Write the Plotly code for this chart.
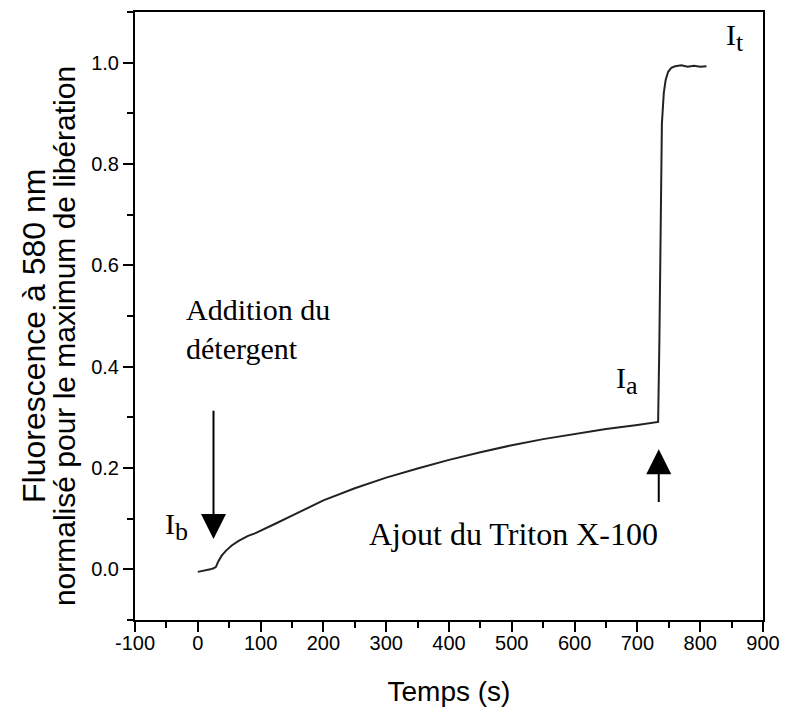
import plotly.graph_objects as go

# Data
time_s = [0, 5, 10, 15, 20, 25, 29, 32, 35, 38, 45, 54, 65, 80, 91, 100, 125, 150, 175,
          200, 250, 300, 350, 400, 450, 500, 550, 600, 650, 700, 720, 733,
          735, 737, 739, 742, 745, 749, 754, 760, 770, 780, 790, 800, 810]
fluo = [-0.005, -0.004, -0.003, -0.002, 0.000, 0.002, 0.005, 0.014, 0.022, 0.027, 0.037,
        0.047, 0.056, 0.066, 0.071, 0.076, 0.091, 0.106, 0.121, 0.136, 0.160, 0.181, 0.199,
        0.216, 0.231, 0.245, 0.257, 0.267, 0.277, 0.285, 0.288, 0.291,
        0.450, 0.700, 0.880, 0.940, 0.966, 0.982, 0.990, 0.993, 0.995, 0.992, 0.994, 0.992, 0.993]

x_ticks = [-100, 0, 100, 200, 300, 400, 500, 600, 700, 800, 900]
x_tick_labels = ["-100", "0", "100", "200", "300", "400", "500", "600", "700", "800", "900"]
y_ticks = [0.0, 0.2, 0.4, 0.6, 0.8, 1.0]
y_tick_labels = ["0.0", "0.2", "0.4", "0.6", "0.8", "1.0"]

serif = "Liberation Serif, Times New Roman, serif"
sans = "Liberation Sans, Arial, sans-serif"

fig = go.Figure()
fig.add_trace(go.Scatter(x=time_s, y=fluo, mode="lines",
                         line=dict(color="#222222", width=2), showlegend=False))

axis_common = dict(showline=True, linecolor="black", linewidth=2, mirror=True,
                   showgrid=False, zeroline=False, ticks="outside", ticklen=10,
                   tickwidth=2, tickcolor="black",
                   tickfont=dict(family=sans, size=20, color="black"))

fig.update_xaxes(range=[-100, 900], tickmode="array", tickvals=x_ticks, ticktext=x_tick_labels,
                 ticklabelstandoff=-6,
                 minor=dict(tickmode="linear", ticks="outside", ticklen=6, tickwidth=2, dtick=50,
                            tick0=-100, tickcolor="black", showgrid=False),
                 title=dict(text="Temps (s)", font=dict(family=sans, size=28, color="black"),
                            standoff=28),
                 **axis_common)
fig.update_yaxes(range=[-0.1, 1.1], tickmode="array", tickvals=y_ticks, ticktext=y_tick_labels,
                 minor=dict(tickmode="linear", ticks="outside", ticklen=6, tickwidth=2, dtick=0.1,
                            tick0=0, tickcolor="black", showgrid=False),
                 **axis_common)

txt = dict(family=serif, size=30, color="black")
sub = "<sub><span style='font-size:26px'>{}</span></sub>"
annots = [
    dict(x=25, y=0.06, ax=25, ay=0.316, axref="x", ayref="y", xref="x", yref="y",
         text="", showarrow=True, arrowhead=2, arrowsize=2.5, arrowwidth=2, arrowcolor="black"),
    dict(x=734, y=0.237, ax=734, ay=0.13, axref="x", ayref="y", xref="x", yref="y",
         text="", showarrow=True, arrowhead=2, arrowsize=2.5, arrowwidth=2, arrowcolor="black"),
    dict(x=-22, y=0.474, xref="x", yref="y", text="Addition du<br>détergent", showarrow=False,
         xanchor="left", yanchor="middle", align="left", font=txt),
    dict(x=-55, y=0.085, xref="x", yref="y", text="I" + sub.format("b"), showarrow=False,
         xanchor="left", font=txt),
    dict(x=663, y=0.372, xref="x", yref="y", text="I" + sub.format("a"), showarrow=False,
         xanchor="left", font=txt),
    dict(x=838, y=1.05, xref="x", yref="y", text="I" + sub.format("t"), showarrow=False,
         xanchor="left", font=txt),
    dict(x=270, y=0.07, xref="x", yref="y", text="Ajout du Triton X-100", showarrow=False,
         xanchor="left", font=dict(family=serif, size=32, color="black")),
    # y-axis title, two lines
    dict(x=-0.161, y=0.467, xref="paper", yref="paper", text="Fluorescence à 580 nm",
         textangle=-90, showarrow=False, xanchor="center", yanchor="middle",
         font=dict(family=sans, size=32, color="black")),
    dict(x=-0.113, y=0.467, xref="paper", yref="paper",
         text="normalisé pour le maximum de libération",
         textangle=-90, showarrow=False, xanchor="center", yanchor="middle",
         font=dict(family=sans, size=30, color="black")),
]
fig.update_layout(annotations=annots, width=790, height=715,
                  margin=dict(l=135, r=22, t=10, b=95),
                  paper_bgcolor="white", plot_bgcolor="white")

fig.write_html("out.html")
